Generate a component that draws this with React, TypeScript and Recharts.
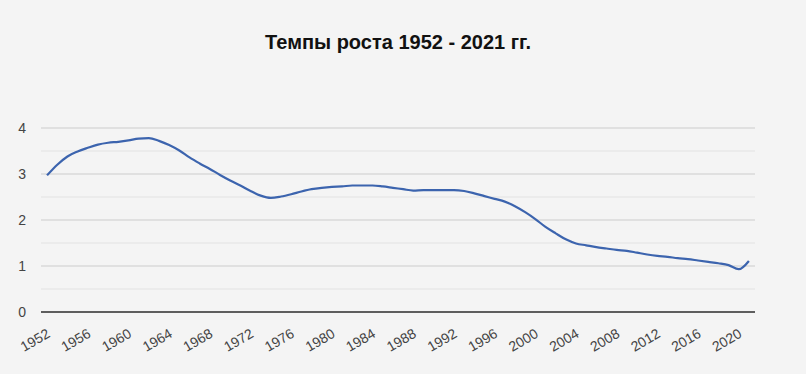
import React from 'react'
import { LineChart, Line, XAxis, YAxis, CartesianGrid, ReferenceLine } from 'recharts'

// годовые темпы роста
const years = [
  1952, 1953, 1954, 1955, 1956, 1957, 1958, 1959, 1960, 1961,
  1962, 1963, 1964, 1965, 1966, 1967, 1968, 1969, 1970, 1971,
  1972, 1973, 1974, 1975, 1976, 1977, 1978, 1979, 1980, 1981,
  1982, 1983, 1984, 1985, 1986, 1987, 1988, 1989, 1990, 1991,
  1992, 1993, 1994, 1995, 1996, 1997, 1998, 1999, 2000, 2001,
  2002, 2003, 2004, 2005, 2006, 2007, 2008, 2009, 2010, 2011,
  2012, 2013, 2014, 2015, 2016, 2017, 2018, 2019, 2020, 2021,
]
const rates = [
  2.97, 3.2, 3.38, 3.49, 3.57, 3.64, 3.68, 3.7, 3.73, 3.77,
  3.78, 3.72, 3.63, 3.51, 3.36, 3.23, 3.11, 2.98, 2.86, 2.75,
  2.63, 2.53, 2.48, 2.51, 2.56, 2.62, 2.67, 2.7, 2.72, 2.73,
  2.75, 2.75, 2.75, 2.73, 2.7, 2.67, 2.64, 2.65, 2.65, 2.65,
  2.65, 2.63, 2.58, 2.52, 2.46, 2.4, 2.3, 2.17, 2.02, 1.85,
  1.71, 1.58, 1.49, 1.45, 1.41, 1.38, 1.35, 1.33, 1.29, 1.25,
  1.22, 1.2, 1.17, 1.15, 1.12, 1.09, 1.06, 1.02, 0.93, 1.11,
]
const xTicks = [
  1952, 1956, 1960, 1964, 1968, 1972, 1976, 1980, 1984,
  1988, 1992, 1996, 2000, 2004, 2008, 2012, 2016, 2020,
]
const yTicks = [0, 1, 2, 3, 4]
const minorLines = [0.5, 1.5, 2.5, 3.5]

const data = years.map((year, i) => ({ year, rate: rates[i] }))

const font = 'Arial, "Liberation Sans", sans-serif'

const YearTick = (props: any) => {
  const { x, y, payload } = props
  return (
    <g transform={`translate(${x + 2},${y + 13}) rotate(-30)`}>
      <text textAnchor="end" fontSize={14} fill="#444" fontFamily={font} dy={4}>
        {payload.value}
      </text>
    </g>
  )
}

export default function App() {
  return (
    <div style={{ width: 806, height: 374, background: '#f4f4f4', position: 'relative' }}>
      <style>{'body{margin:0}'}</style>
      <div
        style={{
          position: 'absolute',
          top: 31,
          left: 0,
          width: 796,
          textAlign: 'center',
          fontFamily: font,
          fontWeight: 'bold',
          fontSize: 20,
          color: '#111',
        }}
      >
        Темпы роста 1952 - 2021 гг.
      </div>
      <LineChart
        width={806}
        height={374}
        data={data}
        margin={{ top: 128, right: 51, bottom: 0, left: 0 }}
      >
        <CartesianGrid vertical={false} stroke="#cccccc" />
        {minorLines.map((v) => (
          <ReferenceLine key={v} y={v} stroke="#e2e2e2" />
        ))}
        <XAxis
          dataKey="year"
          type="number"
          domain={[1951.4, 2021.6]}
          ticks={xTicks}
          interval={0}
          tickLine={false}
          axisLine={{ stroke: '#333', strokeWidth: 1.5 }}
          tick={<YearTick />}
          height={62}
        />
        <YAxis
          domain={[0, 4]}
          ticks={yTicks}
          width={41}
          tickLine={false}
          axisLine={false}
          tickMargin={9}
          tick={{ fontSize: 14, fill: '#444', fontFamily: font }}
        />
        <Line
          type="monotone"
          dataKey="rate"
          stroke="#3c64ae"
          strokeWidth={2.2}
          dot={false}
          isAnimationActive={false}
        />
      </LineChart>
    </div>
  )
}
